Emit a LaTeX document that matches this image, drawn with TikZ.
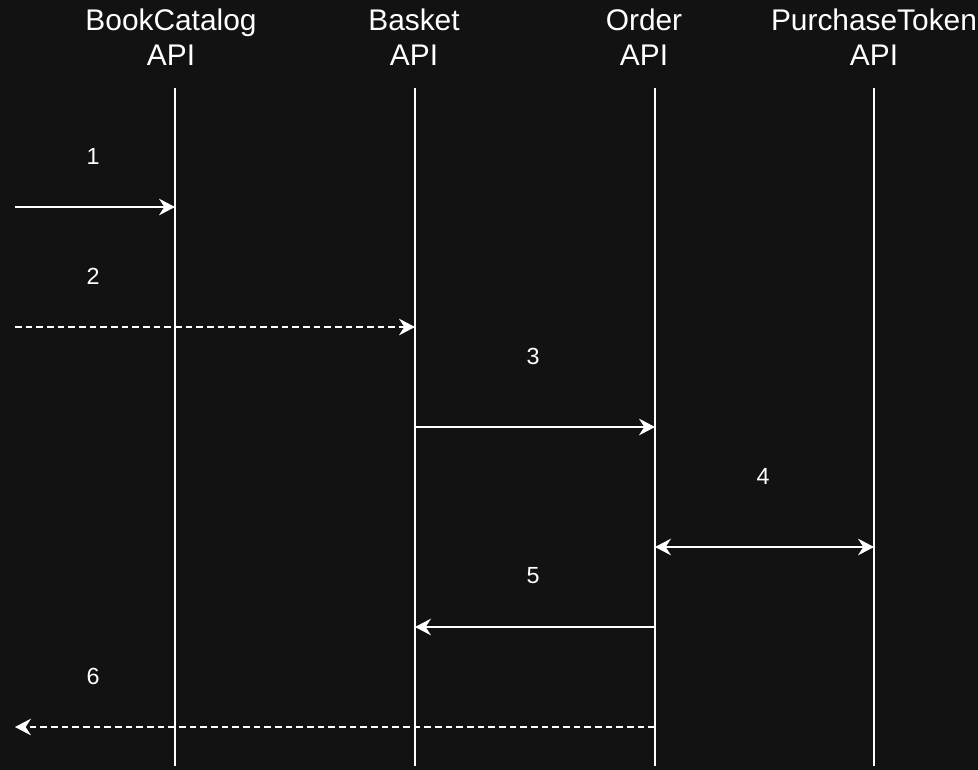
\documentclass[tikz,border=0pt]{standalone}
\usepackage{fontspec}
\setmainfont{Liberation Sans}
\usepackage{xcolor}
\usetikzlibrary{positioning, arrows.meta}

\definecolor{bgdark}{HTML}{121212}

\begin{document}
\begin{tikzpicture}
    [
      x=0.75pt, y=-0.75pt,
      every node/.style = {text=white, align=center},
      head/.style = {font=\fontsize{22.4}{26.25}\selectfont},
      num/.style = {font=\fontsize{17.5}{21}\selectfont},
      life/.style = {draw=white, line width=1.3pt},
      msg/.style = {draw=white, line width=1.3pt, -{Stealth[length=12pt, width=12.5pt, inset=4pt]}},
      both/.style = {msg, {Stealth[length=12pt, width=12.5pt, inset=4pt]}-{Stealth[length=12pt, width=12.5pt, inset=4pt]}},
      reply/.style = {msg, dash pattern=on 5pt off 3pt}
    ]

    \fill[bgdark] (0,0) rectangle (978,770);
    \useasboundingbox (0,0) rectangle (978,770);

    % headers
    \node[head](bc) at (171,37){BookCatalog\\API};
    \node[head](ba) at (414,37){Basket\\API};
    \node[head](or) at (644,37){Order\\API};
    \node[head](pt) at (874,37){PurchaseToken\\API};

    % lifelines
    \coordinate (bcT) at (175,88);  \coordinate (bcB) at (175,766);
    \coordinate (baT) at (415,88);  \coordinate (baB) at (415,766);
    \coordinate (orT) at (655,88);  \coordinate (orB) at (655,766);
    \coordinate (ptT) at (874,88);  \coordinate (ptB) at (874,766);
    \draw[life] (bcT) -- (bcB);
    \draw[life] (baT) -- (baB);
    \draw[life] (orT) -- (orB);
    \draw[life] (ptT) -- (ptB);

    % client ends
    \coordinate (c1) at (15,207);
    \coordinate (c2) at (15,327);
    \coordinate (c6) at (15,727);

    % messages
    \draw[msg] (c1) -- (c1 -| bcT);
    \node[num](m1) at (93,156){1};
    \draw[reply] (c2) -- (c2 -| baT);
    \node[num](m2) at (93,276){2};
    \coordinate (s3) at (415,427);
    \draw[msg] (s3) -- (s3 -| orT);
    \node[num](m3) at (533,356){3};
    \coordinate (s4) at (655,547);
    \draw[both] (s4) -- (s4 -| ptT);
    \node[num](m4) at (763,476){4};
    \coordinate (s5) at (655,627);
    \draw[msg] (s5) -- (s5 -| baT);
    \node[num](m5) at (533,576){5};
    \draw[reply] (c6 -| orT) -- (c6);
    \node[num](m6) at (93,676){6};
\end{tikzpicture}
\end{document}
